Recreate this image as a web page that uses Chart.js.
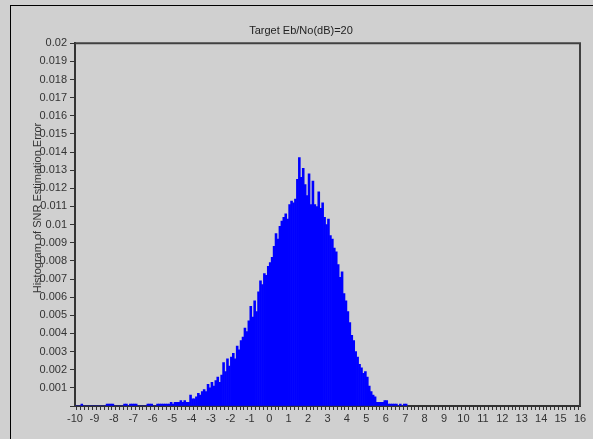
<!DOCTYPE html>
<html>
<head>
<meta charset="utf-8">
<script src="https://cdn.jsdelivr.net/npm/chart.js@4.4.0/dist/chart.umd.min.js"></script>
<style>
  html, body { margin: 0; padding: 0; background: #d0d0d0; }
  #wrap { position: relative; width: 593px; height: 439px; overflow: hidden; }
  #frame { position: absolute; left: 10px; top: 5px; width: 600px; height: 450px;
           border-top: 1px solid #000; border-left: 1px solid #000; pointer-events: none; }
</style>
</head>
<body>
<div id="wrap">
  <canvas id="myChart" width="593" height="439"></canvas>
  <div id="frame"></div>
</div>
<script>
// Histogram bin centres (bin width 0.1)
const binCenters = [
  -9.95, -9.85, -9.75, -9.65, -9.55, -9.45, -9.35, -9.25, -9.15, -9.05,
  -8.95, -8.85, -8.75, -8.65, -8.55, -8.45, -8.35, -8.25, -8.15, -8.05,
  -7.95, -7.85, -7.75, -7.65, -7.55, -7.45, -7.35, -7.25, -7.15, -7.05,
  -6.95, -6.85, -6.75, -6.65, -6.55, -6.45, -6.35, -6.25, -6.15, -6.05,
  -5.95, -5.85, -5.75, -5.65, -5.55, -5.45, -5.35, -5.25, -5.15, -5.05,
  -4.95, -4.85, -4.75, -4.65, -4.55, -4.45, -4.35, -4.25, -4.15, -4.05,
  -3.95, -3.85, -3.75, -3.65, -3.55, -3.45, -3.35, -3.25, -3.15, -3.05,
  -2.95, -2.85, -2.75, -2.65, -2.55, -2.45, -2.35, -2.25, -2.15, -2.05,
  -1.95, -1.85, -1.75, -1.65, -1.55, -1.45, -1.35, -1.25, -1.15, -1.05,
  -0.95, -0.85, -0.75, -0.65, -0.55, -0.45, -0.35, -0.25, -0.15, -0.05,
  0.05, 0.15, 0.25, 0.35, 0.45, 0.55, 0.65, 0.75, 0.85, 0.95,
  1.05, 1.15, 1.25, 1.35, 1.45, 1.55, 1.65, 1.75, 1.85, 1.95,
  2.05, 2.15, 2.25, 2.35, 2.45, 2.55, 2.65, 2.75, 2.85, 2.95,
  3.05, 3.15, 3.25, 3.35, 3.45, 3.55, 3.65, 3.75, 3.85, 3.95,
  4.05, 4.15, 4.25, 4.35, 4.45, 4.55, 4.65, 4.75, 4.85, 4.95,
  5.05, 5.15, 5.25, 5.35, 5.45, 5.55, 5.65, 5.75, 5.85, 5.95,
  6.05, 6.15, 6.25, 6.35, 6.45, 6.55, 6.65, 6.75, 6.85, 6.95,
  7.05
];

// Relative frequency of each bin
const binValues = [
  0, 0, 0, 0.0001, 0, 0, 0, 0, 0, 0,
  0, 0, 0, 0, 0, 0, 0.0001, 0.0001, 0.0001, 0.0001,
  0, 0, 0, 0, 0, 0.0001, 0.0001, 0, 0.0001, 0.0001,
  0.0001, 0.0001, 0, 0, 0, 0, 0, 0.0001, 0.0001, 0.0001,
  0, 0, 0.0001, 0.0001, 0.0001, 0.0001, 0.0001, 0.0001, 0.0001, 0.0002,
  0.0001, 0.0002, 0.0002, 0.0002, 0.0003, 0.0002, 0.0003, 0.0002, 0.0002, 0.0006,
  0.0004, 0.0004, 0.0005, 0.0007, 0.0006, 0.0008, 0.0009, 0.0008, 0.0012, 0.0010,
  0.0013, 0.0011, 0.0014, 0.0016, 0.0013, 0.0017, 0.0024, 0.0019, 0.0026, 0.0022,
  0.0027, 0.0029, 0.0026, 0.0033, 0.0031, 0.0036, 0.0038, 0.0043, 0.0041, 0.0047,
  0.0055, 0.0049, 0.0058, 0.0052, 0.0063, 0.0069, 0.0067, 0.0073, 0.0072, 0.0077,
  0.0079, 0.0082, 0.0088, 0.0095, 0.0092, 0.0099, 0.0102, 0.0104, 0.0106, 0.0103,
  0.0111, 0.0113, 0.0112, 0.0114, 0.0125, 0.0137, 0.0126, 0.0131, 0.0122, 0.0116,
  0.0128, 0.0111, 0.0124, 0.0111, 0.0110, 0.0118, 0.0109, 0.0112, 0.0104, 0.0100,
  0.0103, 0.0094, 0.0092, 0.0087, 0.0085, 0.0078, 0.0071, 0.0074, 0.0062, 0.0058,
  0.0052, 0.0046, 0.0039, 0.0036, 0.0030, 0.0027, 0.0023, 0.0021, 0.0018, 0.0019,
  0.0016, 0.0011, 0.0008, 0.0006, 0.0005, 0.0002, 0.0002, 0.0002, 0.0002, 0.0003,
  0.0003, 0.0001, 0.0001, 0.0001, 0.0001, 0.0001, 0, 0.0001, 0, 0.0001,
  0.0001
];

// Axis ranges
const xMin = -10, xMax = 16, xStep = 0.2;
const yMin = 0, yMax = 0.02, yStep = 0.001;

const chartTitle = 'Target Eb/No(dB)=20';
const yAxisTitle = 'Histogram of SNR Estimation Error';

const points = binCenters.map((x, i) => ({ x: x, y: binValues[i] }));

// draws the top/right frame of the plot and the y axis caption
const framePlugin = {
  id: 'framePlugin',
  afterDraw(chart) {
    const { ctx, chartArea } = chart;
    ctx.save();
    ctx.strokeStyle = '#404040';
    ctx.lineWidth = 2;
    ctx.beginPath();
    ctx.moveTo(chartArea.left, chartArea.top);
    ctx.lineTo(chartArea.right, chartArea.top);
    ctx.lineTo(chartArea.right, chartArea.bottom);
    ctx.stroke();

    ctx.translate(38, 208);
    ctx.rotate(-Math.PI / 2);
    ctx.fillStyle = '#333';
    ctx.font = '11px "Liberation Sans", Arial, sans-serif';
    ctx.textAlign = 'center';
    ctx.textBaseline = 'middle';
    ctx.fillText(yAxisTitle, 0, 0);
    ctx.restore();
  }
};

const ctx = document.getElementById('myChart');

new Chart(ctx, {
  type: 'bar',
  data: {
    datasets: [{
      data: points,
      backgroundColor: '#0000ff',
      borderWidth: 0,
      barPercentage: 1,
      categoryPercentage: 1
    }]
  },
  options: {
    responsive: false,
    animation: false,
    layout: { padding: { left: 22, right: 13, top: 24, bottom: 0 } },
    plugins: {
      legend: { display: false },
      tooltip: { enabled: false },
      title: {
        display: true,
        text: chartTitle,
        color: '#222',
        font: { family: '"Liberation Sans", Arial, sans-serif', size: 11, weight: 'normal' },
        padding: { top: 0, bottom: 6 }
      }
    },
    scales: {
      x: {
        type: 'linear',
        min: xMin,
        max: xMax,
        offset: false,
        afterFit: (s) => { s.height = 33; },
        grid: { drawOnChartArea: false, drawTicks: true, tickLength: 4, tickColor: '#333' },
        border: { color: '#333', width: 2 },
        ticks: {
          stepSize: xStep,
          autoSkip: false,
          maxRotation: 0,
          padding: 2,
          color: '#333',
          font: { family: '"Liberation Sans", Arial, sans-serif', size: 11 },
          callback: (v) => Math.abs(v - Math.round(v)) < 1e-6 ? String(Math.round(v)) : ''
        }
      },
      y: {
        min: yMin,
        max: yMax,
        afterFit: (s) => { s.width = 53; },
        grid: { drawOnChartArea: false, drawTicks: true, tickLength: 5, tickColor: '#333' },
        border: { color: '#333', width: 2 },
        ticks: {
          stepSize: yStep,
          autoSkip: false,
          padding: 3,
          color: '#333',
          font: { family: '"Liberation Sans", Arial, sans-serif', size: 11 },
          callback: (v) => v <= 0 ? '' : String(+v.toFixed(3))
        }
      }
    }
  },
  plugins: [framePlugin]
});
</script>
</body>
</html>
